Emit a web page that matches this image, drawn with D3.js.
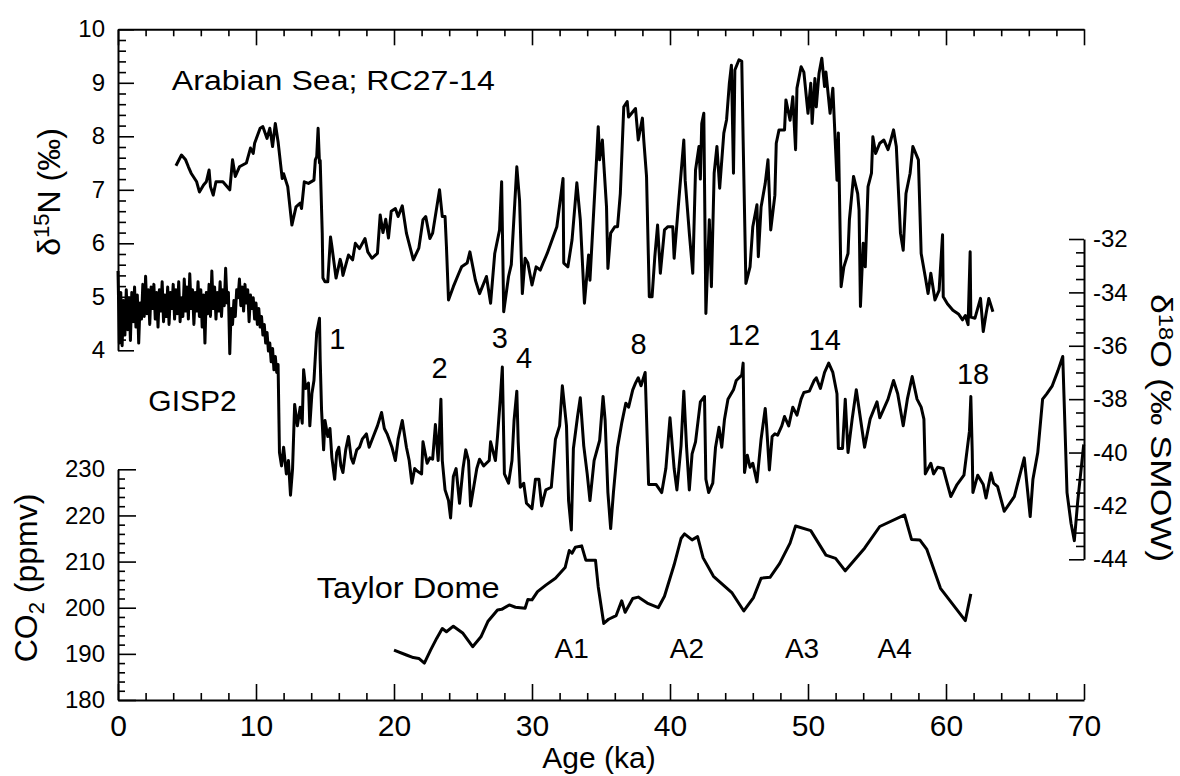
<!DOCTYPE html>
<html>
<head>
<meta charset="utf-8">
<script src="https://cdn.jsdelivr.net/npm/d3@7"></script>
<style>
  body { margin: 0; background: #fff; }
  svg { display: block; font-family: "Liberation Sans", Arial, Helvetica, sans-serif; }
  .axis path, .axis line { stroke: #000; }
  .axis text { fill: #000; font-family: "Liberation Sans", Arial, sans-serif; }
</style>
</head>
<body>
<svg id="chart" width="1180" height="776"></svg>
<script>
// Arabian Sea RC27-14, d15N (per mil) vs age (ka)
var nAge = [
  4.2, 4.6, 4.9, 5.1, 5.3, 5.7, 5.9, 6.2, 6.4, 6.6,
  6.7, 6.9, 7.1, 7.6, 8.1, 8.3, 8.5, 8.8, 9.3, 9.6,
  9.8, 9.9, 10.3, 10.5, 10.8, 11.0, 11.1, 11.2, 11.4, 11.6,
  11.9, 12.0, 12.3, 12.6, 12.9, 13.2, 13.3, 13.5, 13.8, 14.2,
  14.3, 14.4, 14.5, 14.6, 14.65, 14.8, 14.85, 15.0, 15.2, 15.4,
  15.5, 15.8, 16.1, 16.2, 16.3, 16.7, 17.0, 17.2, 17.5, 17.9,
  18.1, 18.4, 18.8, 19.0, 19.2, 19.4, 19.6, 19.8, 20.1, 20.3,
  20.6, 20.9, 21.4, 21.8, 22.1, 22.3, 22.6, 22.8, 23.3, 23.5,
  23.7, 23.8, 23.95, 24.3, 24.7, 24.9, 25.3, 25.5, 25.9, 26.2,
  26.7, 27.0, 27.3, 27.65, 27.8, 27.95, 28.3, 28.5, 28.9, 29.1,
  29.3, 29.5, 29.7, 30.0, 30.3, 30.6, 30.8, 31.1, 31.8, 32.25,
  32.3, 32.6, 32.9, 33.25, 33.5, 33.8, 34.1, 34.2, 34.7, 34.8,
  34.9, 35.1, 35.2, 35.4, 35.5, 35.7, 36.0, 36.2, 36.4, 36.65,
  36.9, 37.0, 37.5, 37.7, 38.0, 38.1, 38.3, 38.5, 38.7, 38.9,
  39.1, 39.3, 39.6, 39.85, 40.2, 40.3, 40.6, 41.0, 41.1, 41.4,
  41.65, 41.85, 42.1, 42.2, 42.3, 42.45, 42.6, 42.85, 43.0, 43.2,
  43.4, 43.6, 43.9, 44.1, 44.3, 44.45, 44.6, 44.7, 45.0, 45.2,
  45.3, 45.5, 45.8, 46.0, 46.3, 46.4, 46.6, 46.9, 47.1, 47.3,
  47.6, 47.7, 47.9, 48.3, 48.4, 48.7, 48.9, 49.1, 49.2, 49.5,
  49.7, 50.0, 50.2, 50.3, 50.5, 50.6, 50.8, 51.0, 51.2, 51.3,
  51.6, 51.8, 52.1, 52.2, 52.4, 52.6, 52.9, 53.0, 53.3, 53.6,
  53.7, 53.8, 54.0, 54.15, 54.35, 54.6, 54.7, 54.9, 55.2, 55.5,
  55.8, 56.0, 56.2, 56.4, 56.7, 56.9, 57.1, 57.4, 57.6, 58.0,
  58.2, 58.5, 58.7, 58.9, 59.2, 59.5, 59.75, 59.8, 60.1, 60.5,
  60.9, 61.2, 61.4, 61.6, 61.75, 61.8, 62.1, 62.5, 62.7, 62.9,
  63.1, 63.4
];
var nD15N = [
  7.45, 7.65, 7.56, 7.43, 7.31, 7.15, 6.96, 7.09, 7.15, 7.37,
  7.06, 6.9, 7.15, 7.15, 7.0, 7.56, 7.25, 7.43, 7.5, 7.78,
  7.68, 7.87, 8.15, 8.18, 7.96, 8.15, 7.99, 7.81, 8.24, 7.9,
  7.21, 7.3, 7.06, 6.34, 6.68, 6.75, 6.65, 7.15, 7.12, 7.18,
  7.56, 7.62, 8.15, 7.5, 7.55, 6.19, 5.35, 5.28, 5.28, 6.12,
  5.94, 5.35, 5.7, 5.6, 5.4, 5.78, 5.69, 6.0, 5.9, 6.09,
  5.84, 5.72, 5.81, 6.53, 6.2, 6.45, 6.1, 6.6, 6.65, 6.5,
  6.7, 6.19, 5.69, 5.91, 6.44, 6.5, 6.09, 6.19, 7.0, 6.5,
  6.5, 5.94, 4.94, 5.19, 5.44, 5.56, 5.63, 5.84, 5.31, 5.06,
  5.38, 4.88, 5.81, 6.25, 7.15, 4.72, 5.38, 5.6, 7.43, 6.8,
  5.06, 5.72, 5.63, 5.22, 5.56, 5.5, 5.63, 5.81, 6.31, 7.21,
  5.63, 5.56, 6.06, 7.13, 6.44, 4.88, 5.78, 5.31, 7.68, 8.18,
  7.56, 7.93, 7.5, 6.68, 5.53, 6.19, 6.31, 6.31, 6.93, 8.55,
  8.65, 8.36, 8.52, 7.93, 8.34, 7.93, 7.25, 5.0, 5.0, 5.75,
  6.34, 5.44, 6.25, 6.31, 6.31, 5.72, 6.68, 7.93, 7.18, 6.19,
  5.44, 7.37, 7.81, 7.2, 8.24, 8.43, 4.69, 6.44, 5.19, 7.31,
  7.81, 7.03, 8.06, 8.31, 8.99, 9.33, 7.31, 9.24, 9.43, 9.4,
  7.93, 5.25, 5.56, 6.31, 6.72, 5.75, 6.68, 7.12, 7.56, 6.25,
  6.9, 7.87, 8.12, 8.12, 8.68, 8.3, 8.74, 7.75, 8.9, 9.3,
  9.2, 8.43, 8.99, 8.24, 9.08, 8.55, 9.18, 9.46, 8.93, 9.2,
  8.43, 8.9, 7.18, 8.06, 5.19, 5.56, 5.81, 6.44, 7.25, 6.93,
  6.62, 4.82, 6.0, 5.56, 7.06, 7.31, 7.99, 7.68, 7.87, 7.93,
  7.75, 7.93, 8.12, 7.81, 6.19, 5.87, 6.93, 7.31, 7.81, 7.56,
  5.81, 5.37, 5.06, 5.44, 4.94, 5.12, 6.16, 5.0, 4.87, 4.75,
  4.68, 4.57, 4.65, 4.48, 5.84, 4.62, 4.6, 4.97, 4.35, 4.68,
  4.97, 4.72
];

// GISP2 d18O (per mil SMOW) vs age (ka)
var gispAge = [
  0.0, 0.1, 0.2, 0.3, 0.4, 0.5, 0.6, 0.7, 0.8, 0.9,
  1.0, 1.1, 1.2, 1.3, 1.4, 1.5, 1.6, 1.7, 1.8, 1.9,
  2.0, 2.1, 2.2, 2.3, 2.4, 2.5, 2.6, 2.7, 2.8, 2.9,
  3.0, 3.1, 3.2, 3.3, 3.4, 3.5, 3.6, 3.7, 3.8, 3.9,
  4.0, 4.1, 4.2, 4.3, 4.4, 4.5, 4.6, 4.7, 4.8, 4.9,
  5.0, 5.1, 5.2, 5.3, 5.4, 5.5, 5.6, 5.7, 5.8, 5.9,
  6.0, 6.1, 6.2, 6.3, 6.4, 6.5, 6.6, 6.7, 6.8, 6.9,
  7.0, 7.1, 7.2, 7.3, 7.4, 7.5, 7.6, 7.7, 7.8, 7.9,
  8.0, 8.1, 8.2, 8.3, 8.4, 8.5, 8.6, 8.7, 8.8, 8.9,
  9.0, 9.1, 9.2, 9.3, 9.4, 9.5, 9.6, 9.7, 9.8, 9.9,
  10.0, 10.1, 10.2, 10.3, 10.4, 10.5, 10.6, 10.7, 10.8, 10.9,
  11.0, 11.1, 11.2, 11.3, 11.4, 11.5, 11.6,
  11.7, 11.85, 12.0, 12.2, 12.35, 12.5, 12.65, 12.8, 13.0, 13.2,
  13.35, 13.45, 13.6, 13.8, 13.9, 14.05, 14.2, 14.4, 14.6, 14.65,
  14.75, 14.9, 15.0, 15.2, 15.36, 15.5, 15.7, 15.85, 16.0, 16.15,
  16.3, 16.5, 16.7, 16.9, 17.05, 17.3, 17.5, 17.7, 18.0, 18.2,
  18.5, 18.8, 19.1, 19.3, 19.5, 19.85, 20.1, 20.3, 20.6, 20.9,
  21.1, 21.3, 21.5, 21.7, 22.0, 22.1, 22.4, 22.6, 22.8, 23.0,
  23.2, 23.4, 23.5, 23.7, 23.95, 24.1, 24.3, 24.5, 24.75, 25.0,
  25.2, 25.4, 25.55, 26.0, 26.2, 26.5, 26.9, 27.0, 27.35, 27.5,
  27.7, 27.85, 28.0, 28.3, 28.55, 28.7, 28.9, 29.0, 29.15, 29.4,
  29.6, 30.0, 30.25, 30.5, 30.7, 31.0, 31.4, 31.7, 32.0, 32.2,
  32.5, 32.65, 32.85, 33.0, 33.3, 33.5, 33.75, 34.0, 34.2, 34.5,
  34.9, 35.15, 35.3, 35.5, 35.7, 35.9, 36.2, 36.5, 36.8, 37.0,
  37.3, 37.5, 37.7, 37.9, 38.2, 38.45, 39.0, 39.4, 39.7, 40.0,
  40.3, 40.5, 40.8, 41.0, 41.2, 41.4, 41.6, 41.85, 42.2, 42.5,
  42.6, 42.8, 43.1, 43.3, 43.55, 43.75, 43.95, 44.2, 44.6, 44.8,
  45.2, 45.3, 45.4, 45.6, 45.8, 46.0, 46.3, 46.6, 46.9, 47.0,
  47.2, 47.4, 47.6, 47.8, 48.1, 48.3, 48.6, 48.9, 49.2, 49.5,
  49.7, 50.1, 50.45, 50.6, 50.9, 51.2, 51.5, 51.8, 52.1, 52.2,
  52.5, 52.7, 52.9, 53.2, 53.5, 54.1, 54.5, 55.0, 55.2, 55.8,
  56.2, 56.5, 56.9, 57.2, 57.55, 57.9, 58.2, 58.4, 58.5, 58.9,
  59.1, 59.4, 59.8, 60.35, 60.8, 61.3, 61.7, 61.8, 61.9, 61.95,
  62.3, 62.7, 62.9, 63.26, 63.45, 63.74, 64.22, 64.95, 65.67, 66.1,
  66.3, 66.65, 67.0, 67.3, 67.7, 68.1, 68.46, 68.77, 69.06, 69.3,
  69.55, 69.98
];
var gispD18O = [
  -33.2, -35.9, -34.0, -36.0, -34.3, -35.6, -33.9, -35.4, -34.2, -35.8,
  -34.0, -35.1, -33.8, -35.3, -34.1, -35.9, -34.4, -35.0, -33.7, -34.9,
  -33.4, -34.8, -33.9, -35.2, -33.8, -34.6, -33.7, -35.0, -34.0, -35.3,
  -33.9, -34.7, -33.6, -35.1, -34.1, -34.9, -33.8, -35.2, -34.0, -34.6,
  -33.7, -35.0, -33.9, -34.8, -33.6, -35.1, -34.2, -34.9, -33.5, -34.7,
  -33.8, -35.0, -33.3, -34.6, -33.9, -35.2, -34.0, -34.7, -33.6, -34.9,
  -33.9, -35.3, -34.1, -35.9, -34.0, -34.8, -33.7, -34.9, -33.2, -34.6,
  -33.8, -35.0, -34.0, -34.7, -33.6, -34.9, -33.9, -34.5, -33.1, -34.4,
  -34.0, -36.3, -34.6, -35.2, -34.3, -34.9, -33.9, -34.2, -33.5, -34.5,
  -33.8, -34.7, -33.7, -34.4, -33.9, -35.1, -34.1, -34.6, -34.2, -35.0,
  -34.4, -35.2, -34.6, -35.3, -34.9, -35.6, -35.2, -35.9, -35.5, -36.2,
  -35.9, -36.6, -36.1, -36.9, -36.4, -37.0, -36.7,
  -40.0, -40.5, -39.8, -40.8, -40.3, -41.6, -40.6, -38.2, -39.0, -38.3,
  -38.9, -36.9, -37.6, -37.4, -39.0, -37.8, -37.3, -35.5, -34.97, -36.5,
  -38.4, -39.9, -38.8, -39.4, -39.1, -40.2, -41.0, -40.0, -39.8, -40.5,
  -40.75, -39.9, -39.4, -40.2, -40.4, -39.9, -39.8, -39.5, -39.3, -39.8,
  -39.4, -39.0, -38.5, -39.1, -39.3, -39.8, -40.3, -39.5, -38.8, -39.8,
  -40.3, -41.15, -40.6, -40.7, -40.8, -39.6, -40.4, -40.2, -40.25, -38.95,
  -40.3, -38.0, -40.3, -41.4, -41.8, -42.45, -40.9, -40.6, -41.9, -40.6,
  -39.9, -40.3, -42.0, -40.6, -40.25, -40.5, -40.3, -39.6, -40.3, -39.4,
  -38.0, -36.8, -40.8, -41.15, -40.3, -38.8, -37.7, -39.6, -41.3, -41.15,
  -41.9, -42.1, -41.0, -41.0, -42.0, -41.4, -41.3, -39.5, -39.0, -37.5,
  -39.0, -41.8, -42.9, -39.85, -38.65, -37.95, -39.75, -40.8, -41.8, -40.3,
  -39.55, -37.9, -38.8, -41.5, -42.85, -41.5, -39.8, -38.9, -38.15, -38.3,
  -37.65, -37.4, -37.2, -37.5, -37.0, -41.2, -41.2, -41.5, -40.6, -38.7,
  -40.6, -41.4, -39.75, -37.7, -39.8, -41.4, -40.05, -39.6, -38.1, -37.9,
  -41.0, -41.5, -41.15, -39.8, -39.05, -39.8, -38.75, -38.0, -37.65, -37.3,
  -37.1, -36.65, -40.75, -40.1, -40.55, -40.4, -41.1, -39.5, -38.35, -39.0,
  -40.65, -39.4, -39.3, -39.35, -39.0, -38.65, -39.0, -38.3, -38.6, -38.0,
  -37.75, -37.7, -37.3, -37.2, -37.6, -37.0, -36.65, -37.0, -37.8, -39.85,
  -39.85, -38.0, -40.0, -38.75, -37.65, -39.8, -38.75, -38.1, -38.7, -38.0,
  -37.3, -37.8, -39.0, -38.0, -37.15, -38.0, -38.3, -38.75, -40.8, -40.4,
  -40.8, -40.55, -40.6, -41.65, -41.2, -40.85, -39.2, -37.9, -39.95, -41.5,
  -40.85, -41.2, -41.7, -40.77, -41.15, -41.28, -42.2, -41.65, -40.2, -42.4,
  -41.0, -40.0, -38.0, -37.8, -37.5, -36.95, -36.4, -41.5, -42.65, -43.3,
  -41.8, -39.7
];

// Taylor Dome CO2 (ppmv) vs age (ka)
var co2Age = [
  20.0, 20.9, 21.4, 21.8, 22.2, 22.65, 23.1, 23.5, 23.8, 24.3,
  25.0, 25.7, 26.3, 26.8, 27.5, 27.8, 28.35, 28.8, 29.5, 29.7,
  30.0, 30.4, 31.0, 31.7, 32.4, 32.7, 32.9, 33.14, 33.6, 33.9,
  34.6, 34.8, 35.2, 35.55, 36.1, 36.5, 36.75, 37.3, 37.7, 38.35,
  39.15, 39.6, 40.3, 40.8, 41.05, 41.6, 42.0, 42.4, 43.15, 44.5,
  45.35, 46.05, 46.6, 47.25, 47.95, 48.7, 49.1, 50.2, 51.3, 52.0,
  52.7, 54.1, 55.2, 57.0, 57.5, 58.1, 58.6, 59.6, 61.4, 61.8
];
var co2Ppmv = [
  190.8, 189.75, 189.2, 189.0, 188.0, 190.8, 193.4, 195.5, 194.8, 196.0,
  194.45, 191.55, 193.7, 197.0, 199.5, 199.65, 200.6, 200.1, 199.9, 201.8,
  201.7, 203.5, 204.9, 206.4, 208.7, 212.4, 211.8, 213.1, 213.4, 210.3,
  210.3, 204.5, 196.6, 197.5, 198.3, 201.5, 199.0, 202.0, 202.3, 201.0,
  200.0, 202.5, 209.3, 215.0, 216.0, 214.7, 215.4, 210.8, 206.8, 203.2,
  199.3, 202.2, 206.4, 206.6, 209.6, 214.0, 217.7, 216.7, 211.4, 210.7,
  208.0, 212.9, 217.6, 220.1, 214.8, 214.7, 212.7, 204.2, 197.2, 203.0
];

// interstadial numbers over GISP2 and Antarctic warmings under CO2
var eventNames = ["1", "2", "3", "4", "8", "12", "14", "18"];
var eventAge = [15.9, 23.3, 27.66, 29.42, 37.73, 45.36, 51.21, 61.96];
var eventD18O = [-36.12, -37.2, -36.08, -36.83, -36.31, -35.97, -36.16, -37.43];
var warmNames = ["A1", "A2", "A3", "A4"];
var warmAge = [32.88, 41.23, 49.57, 56.28];
var warmPpmv = [189.1, 189.1, 189.1, 189.1];

var svg = d3.select("#chart");
svg.append("rect").attr("width", 1180).attr("height", 776).attr("fill", "#fff");

var x = d3.scaleLinear().domain([0, 70]).range([118, 1084]);
var yN = d3.scaleLinear().domain([4, 10]).range([350.3, 29.3]);
var yO = d3.scaleLinear().domain([-44, -32]).range([559.3, 239]);
var yC = d3.scaleLinear().domain([180, 230]).range([700, 469.3]);

function tickSet(axis, vals, size, withDomain) {
  return function (g) {
    g.attr("class", "axis")
      .call(axis.tickValues(vals).tickSize(size).tickSizeOuter(0).tickFormat(""));
    g.selectAll(".tick line").attr("stroke-width", 1.6);
    if (withDomain) g.select(".domain").attr("stroke-width", 2);
    else g.select(".domain").remove();
  };
}

var ageMajor = d3.range(0, 71, 10);
var ageMinor = d3.range(0, 71, 2).filter(function (d) { return d % 10 !== 0; });

// bottom age axis
svg.append("g").attr("transform", "translate(0," + yC(180) + ")")
  .call(tickSet(d3.axisBottom(x), ageMinor, -7, true));
svg.append("g").attr("transform", "translate(0," + yC(180) + ")")
  .call(tickSet(d3.axisBottom(x), ageMajor, -16, false));
svg.append("g").attr("transform", "translate(0," + yC(180) + ")")
  .attr("class", "axis")
  .call(d3.axisBottom(x).tickValues(ageMajor).tickSize(0).tickPadding(15))
  .call(function (g) {
    g.select(".domain").remove();
    g.selectAll("text").attr("font-size", 30);
  });

// top axis, no labels
svg.append("g").attr("transform", "translate(0," + yN(10) + ")")
  .call(tickSet(d3.axisTop(x), ageMinor, -7, true));
svg.append("g").attr("transform", "translate(0," + yN(10) + ")")
  .call(tickSet(d3.axisTop(x), ageMajor, -16, false));

// left d15N axis
svg.append("g").attr("transform", "translate(" + x(0) + ",0)")
  .call(tickSet(d3.axisLeft(yN), d3.range(4, 10.01, 0.2).filter(function (d) { return Math.abs(d - Math.round(d)) > 0.01; }), -8, true));
svg.append("g").attr("transform", "translate(" + x(0) + ",0)")
  .attr("class", "axis")
  .call(d3.axisLeft(yN).tickValues(d3.range(4, 11, 1)).tickSize(-16).tickSizeOuter(0).tickPadding(13)
    .tickFormat(d3.format("d")))
  .call(function (g) {
    g.select(".domain").remove();
    g.selectAll(".tick line").attr("stroke-width", 1.6);
    g.selectAll("text").attr("font-size", 24);
  });

// left CO2 axis
svg.append("g").attr("transform", "translate(" + x(0) + ",0)")
  .call(tickSet(d3.axisLeft(yC), d3.range(180, 231, 2).filter(function (d) { return d % 10 !== 0; }), -7, true));
svg.append("g").attr("transform", "translate(" + x(0) + ",0)")
  .attr("class", "axis")
  .call(d3.axisLeft(yC).tickValues(d3.range(180, 231, 10)).tickSize(-18).tickSizeOuter(0).tickPadding(13))
  .call(function (g) {
    g.select(".domain").remove();
    g.selectAll(".tick line").attr("stroke-width", 1.6);
    g.selectAll("text").attr("font-size", 24);
  });

// right d18O axis
svg.append("g").attr("transform", "translate(" + x(70) + ",0)")
  .call(tickSet(d3.axisRight(yO), d3.range(-44, -31.9, 0.5).filter(function (d) { return d % 2 !== 0; }), -8, true));
svg.append("g").attr("transform", "translate(" + x(70) + ",0)")
  .attr("class", "axis")
  .call(d3.axisRight(yO).tickValues(d3.range(-44, -31, 2)).tickSize(-15).tickSizeOuter(0).tickPadding(9)
    .tickFormat(function (d) { return String(d); }))
  .call(function (g) {
    g.select(".domain").remove();
    g.selectAll(".tick line").attr("stroke-width", 1.6);
    g.selectAll("text").attr("font-size", 24);
  });

// data lines
function drawLine(ages, vals, yScale) {
  var line = d3.line().x(function (d) { return x(d[0]); }).y(function (d) { return yScale(d[1]); });
  svg.append("path")
    .datum(d3.zip(ages, vals))
    .attr("d", line)
    .attr("fill", "none")
    .attr("stroke", "#000")
    .attr("stroke-width", 3)
    .attr("stroke-linejoin", "round");
}
drawLine(nAge, nD15N, yN);
drawLine(gispAge, gispD18O, yO);
drawLine(co2Age, co2Ppmv, yC);

// text
svg.append("text").attr("x", x(3.9)).attr("y", yN(8.87))
  .attr("font-size", 27).attr("textLength", 323).attr("lengthAdjust", "spacingAndGlyphs")
  .text("Arabian Sea; RC27-14");
svg.append("text").attr("x", x(2.2)).attr("y", yO(-38.43))
  .attr("font-size", 30).text("GISP2");
svg.append("text").attr("x", x(14.4)).attr("y", yC(202.0))
  .attr("font-size", 30).attr("textLength", 183).attr("lengthAdjust", "spacingAndGlyphs")
  .text("Taylor Dome");

svg.selectAll(".event").data(eventNames).enter().append("text")
  .attr("class", "event")
  .attr("x", function (d, i) { return x(eventAge[i]); })
  .attr("y", function (d, i) { return yO(eventD18O[i]); })
  .attr("text-anchor", "middle").attr("font-size", 29)
  .text(function (d) { return d; });

svg.selectAll(".warm").data(warmNames).enter().append("text")
  .attr("class", "warm")
  .attr("x", function (d, i) { return x(warmAge[i]); })
  .attr("y", function (d, i) { return yC(warmPpmv[i]); })
  .attr("text-anchor", "middle").attr("font-size", 28)
  .text(function (d) { return d; });

// axis titles
svg.append("text").attr("x", 599).attr("y", 768)
  .attr("text-anchor", "middle").attr("font-size", 30).text("Age (ka)");

var tN = svg.append("text").attr("transform", "translate(60,192) rotate(-90)")
  .attr("text-anchor", "middle").attr("font-size", 32);
tN.append("tspan").text("\u03b4");
tN.append("tspan").attr("font-size", 22).attr("dy", -11).text("15");
tN.append("tspan").attr("dy", 11).text("N (\u2030)");

var tC = svg.append("text").attr("transform", "translate(37,578) rotate(-90)")
  .attr("text-anchor", "middle").attr("font-size", 32);
tC.append("tspan").text("CO");
tC.append("tspan").attr("font-size", 22).attr("dy", 7).text("2");
tC.append("tspan").attr("dy", -7).text(" (ppmv)");

var tO = svg.append("text").attr("transform", "translate(1151,428) rotate(90)")
  .attr("text-anchor", "middle").attr("font-size", 30)
  .attr("textLength", 268).attr("lengthAdjust", "spacingAndGlyphs");
tO.append("tspan").text("\u03b4");
tO.append("tspan").attr("font-size", 20).attr("dy", -8).text("18");
tO.append("tspan").attr("dy", 8).text("O (\u2030 SMOW)");
</script>
</body>
</html>
